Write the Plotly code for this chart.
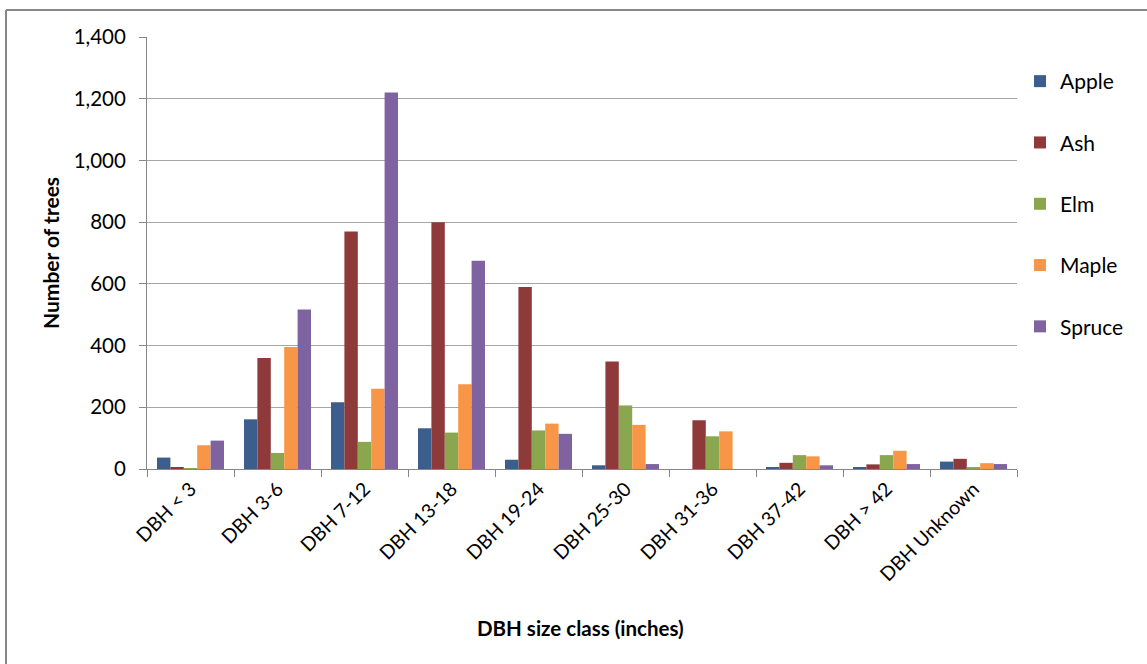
import plotly.graph_objects as go

categories = ["DBH < 3", "DBH 3-6", "DBH 7-12", "DBH 13-18", "DBH 19-24",
              "DBH 25-30", "DBH 31-36", "DBH 37-42", "DBH > 42", "DBH Unknown"]
apple = [37, 161, 216, 132, 30, 12, 0, 4, 4, 24]
ash = [4, 360, 770, 800, 590, 348, 158, 20, 15, 33]
elm = [3, 52, 88, 118, 125, 206, 106, 45, 45, 4]
maple = [77, 395, 260, 275, 147, 143, 122, 41, 59, 19]
spruce = [92, 517, 1220, 675, 114, 16, 0, 12, 16, 16]

series = [("Apple", apple, "#3B5E8C"), ("Ash", ash, "#8E3A3A"),
          ("Elm", elm, "#8AA64F"), ("Maple", maple, "#F79646"),
          ("Spruce", spruce, "#7F63A1")]

FONT = "Lato, 'Liberation Sans', sans-serif"

fig = go.Figure()
for name, vals, col in series:
    fig.add_trace(go.Bar(x=categories, y=vals, name=name, marker_color=col,
                         marker_line_width=0, legendgroup=name))

L, R, T, B = 147, 130, 37, 195
W, H = 1147, 664
pw, ph = W - L - R, H - T - B

fig.update_layout(
    width=W, height=H,
    margin=dict(l=L, r=R, t=T, b=B, autoexpand=False),
    paper_bgcolor="white", plot_bgcolor="white",
    font=dict(family=FONT, color="#000000"),
    barmode="group", bargap=0.23, bargroupgap=0,
    legend=dict(x=(1020 - L) / pw, y=(469 - 61) / ph, xanchor="left", yanchor="top",
                font=dict(size=21, family=FONT), tracegroupgap=31,
                itemwidth=30, bgcolor="rgba(0,0,0,0)"),
    xaxis=dict(type="category", showline=True, linecolor="#868686", linewidth=1,
               ticks="outside", tickson="boundaries", ticklen=7, tickcolor="#868686",
               tickangle=-45, tickfont=dict(size=19.5, family=FONT),
               showgrid=False),
    yaxis=dict(range=[0, 1400], dtick=200, tickformat=",", showline=True,
               linecolor="#868686", linewidth=1, ticks="outside", ticklen=7,
               tickcolor="#868686", gridcolor="#A6A6A6", gridwidth=1,
               tickfont=dict(size=20.5, family=FONT), zeroline=False,
               ticklabelstandoff=9),
    annotations=[
        dict(text="<b>Number of trees</b>", xref="paper", yref="paper",
             x=(50 - L) / pw, y=(469 - 253) / ph, textangle=-90, showarrow=False,
             font=dict(size=21, family=FONT), xanchor="center", yanchor="middle"),
        dict(text="<b>DBH size class (inches)</b>", xref="paper", yref="paper",
             x=(580 - L) / pw, y=(469 - 628) / ph, showarrow=False,
             font=dict(size=20.5, family=FONT), xanchor="center", yanchor="middle"),
    ],
    shapes=[
        dict(type="line", xref="paper", yref="paper", x0=(6 - L) / pw, x1=(1160 - L) / pw,
             y0=(469 - 10) / ph, y1=(469 - 10) / ph, line=dict(color="#878787", width=2)),
        dict(type="line", xref="paper", yref="paper", x0=(6 - L) / pw, x1=(6 - L) / pw,
             y0=(469 - 10) / ph, y1=(469 - 680) / ph, line=dict(color="#878787", width=2)),
    ],
)

fig.write_html("out.html", config={"displayModeBar": False},
               post_script="document.body.style.margin='0';document.body.style.overflow='hidden';")
